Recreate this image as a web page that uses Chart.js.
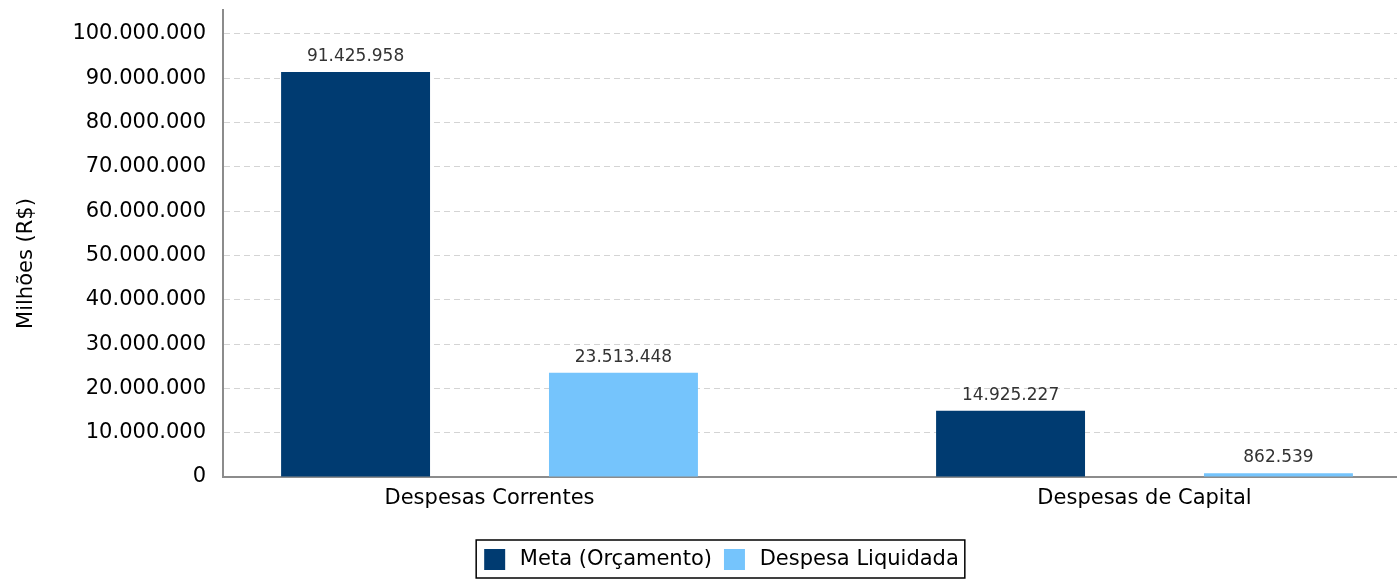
<!DOCTYPE html>
<html>
<head>
<meta charset="utf-8">
<script src="https://cdn.jsdelivr.net/npm/chart.js@4.4.0/dist/chart.umd.min.js"></script>
<style>
  html, body { margin: 0; padding: 0; background: #fff; }
  #wrap { width: 1397px; height: 580px; }
</style>
</head>
<body>
<div id="wrap"><canvas id="myChart"></canvas></div>
<script>
var categories = ["Despesas Correntes", "Despesas de Capital"]
var meta = [91425958, 14925227]
var liquidada = [23513448, 862539]
var yTicks = [0, 10000000, 20000000, 30000000, 40000000, 50000000, 60000000, 70000000, 80000000, 90000000, 100000000]

function fmt(v){
    return String(Math.round(v)).replace(/\B(?=(\d{3})+(?!\d))/g, ".")
}

// bars are placed on a numeric x axis (1, 2) so the category margins can match
function toPoints(arr){
    return arr.map(function(v, i){ return {x: i + 1, y: v} })
}

var font = "'DejaVu Sans', sans-serif"

// value labels above each bar
var barLabels = {
    id: 'barLabels',
    afterDatasetsDraw: function(chart){
        var ctx = chart.ctx
        ctx.save()
        ctx.font = "17px " + font
        ctx.fillStyle = "#333"
        ctx.textAlign = "center"
        ctx.textBaseline = "bottom"
        chart.data.datasets.forEach(function(ds, di){
            chart.getDatasetMeta(di).data.forEach(function(bar, i){
                ctx.fillText(fmt(ds.data[i].y), bar.x, bar.y - 7)
            })
        })
        ctx.restore()
    }
}

// shift legend a bit right and frame it in black
var legendBox = {
    id: 'legendBox',
    afterLayout: function(chart){
        chart.legend.left += 16
        chart.legend.right += 16
    },
    afterDraw: function(chart){
        var boxes = chart.legend.legendHitBoxes
        if (!boxes || !boxes.length) return
        var l = Math.min.apply(null, boxes.map(function(b){ return b.left }))
        var r = Math.max.apply(null, boxes.map(function(b){ return b.left + b.width }))
        var t = Math.min.apply(null, boxes.map(function(b){ return b.top }))
        var b = Math.max.apply(null, boxes.map(function(b){ return b.top + b.height }))
        var ctx = chart.ctx
        ctx.save()
        ctx.strokeStyle = "#000"
        ctx.lineWidth = 1.5
        ctx.strokeRect(l - 8, t - 9, (r - l) + 14, (b - t) + 17)
        ctx.restore()
    }
}

var ctx = document.getElementById("myChart")
var myBarChart = new Chart(ctx, {
    type: 'bar',
    data: {
        datasets: [
            {
                label: "Meta (Orçamento)",
                data: toPoints(meta),
                backgroundColor: "#003b71",
                borderWidth: 0
            },
            {
                label: "Despesa Liquidada",
                data: toPoints(liquidada),
                backgroundColor: "#75c4fc",
                borderWidth: 0
            }
        ]
    },
    options: {
        responsive: true,
        maintainAspectRatio: false,
        animation: false,
        datasets: {
            bar: { categoryPercentage: 0.818, barPercentage: 0.556 }
        },
        layout: { padding: { top: 10, right: 0, left: 14, bottom: 0 } },
        plugins: {
            legend: {
                position: 'bottom',
                labels: {
                    font: { family: font, size: 21 },
                    color: "#000",
                    boxWidth: 21,
                    boxHeight: 21,
                    padding: 12,
                    generateLabels: function(chart){
                        var items = Chart.defaults.plugins.legend.labels.generateLabels(chart)
                        items.forEach(function(it){ it.text = "\u2009" + it.text })
                        return items
                    }
                }
            },
            tooltip: { enabled: false }
        },
        scales: {
            x: {
                type: 'linear',
                offset: false,
                min: 0.5931,
                max: 2.3855,
                afterBuildTicks: function(scale){
                    scale.ticks = categories.map(function(c, i){ return {value: i + 1} })
                },
                ticks: {
                    autoSkip: false,
                    maxRotation: 0,
                    font: { family: font, size: 21 },
                    color: "#000",
                    padding: 9,
                    callback: function(v){ return categories[v - 1] }
                },
                grid: { display: false, drawTicks: false, offset: false },
                border: { display: true, color: "#8c8c8c", width: 2 },
                afterFit: function(scale){ scale.height = 60 }
            },
            y: {
                min: 0,
                max: 105400000,
                afterBuildTicks: function(scale){
                    scale.ticks = yTicks.map(function(v){ return {value: v} })
                },
                ticks: {
                    font: { family: font, size: 21 },
                    color: "#000",
                    padding: 17,
                    callback: function(v){ return fmt(v) }
                },
                title: {
                    display: true,
                    text: "Milhões (R$)      ",
                    font: { family: font, size: 21 },
                    color: "#000",
                    padding: { top: 0, bottom: 19 }
                },
                grid: {
                    color: function(c){ return c.tick && c.tick.value === 0 ? "rgba(0,0,0,0)" : "#d4d4d4" },
                    lineWidth: 1,
                    drawTicks: false
                },
                border: { display: true, color: "#8c8c8c", width: 2, dash: [6, 4] },
                afterFit: function(scale){
                    scale.width = 209
                    scale.paddingTop = 0
                    scale.paddingBottom = 0
                }
            }
        }
    },
    plugins: [barLabels, legendBox]
})
</script>
</body>
</html>
